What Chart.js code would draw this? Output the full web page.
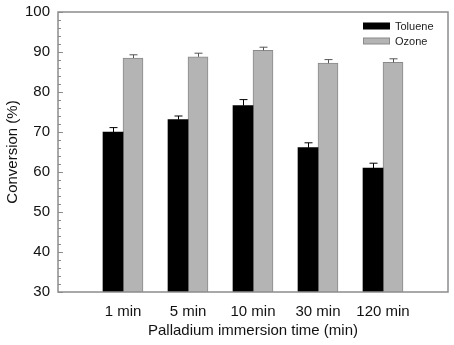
<!DOCTYPE html>
<html>
<head>
<meta charset="utf-8">
<script src="https://cdn.jsdelivr.net/npm/chart.js@4/dist/chart.umd.min.js"></script>
<style>
  html, body { margin: 0; padding: 0; background: #fff; }
  #wrap { width: 454px; height: 345px; }
</style>
</head>
<body>
<div id="wrap"><canvas id="chart" width="454" height="345"></canvas></div>
<script>
const categories = ['1 min', '5 min', '10 min', '30 min', '120 min'];
const tolueneValues = [70.0, 73.1, 76.6, 66.1, 61.0];
const tolueneErrors = [1.1, 0.9, 1.5, 1.2, 1.2];
const ozoneValues = [88.5, 88.8, 90.4, 87.2, 87.4];
const ozoneErrors = [0.8, 0.9, 0.8, 0.9, 0.9];
const yTicks = [30, 40, 50, 60, 70, 80, 90, 100];

const FONT = '"Liberation Sans", Arial, sans-serif';

// empty slot on both ends so the groups sit like in the original
const pad = arr => [null, ...arr, null];
const labels = ['', ...categories, ''];

const frameAndTicks = {
    id: 'frameAndTicks',
    afterDatasetsDraw(chart) {
        const { ctx, chartArea: a, scales: { y } } = chart;
        ctx.save();
        ctx.strokeStyle = '#8c8c8c';
        ctx.lineWidth = 1;
        // minor and major ticks on the inside of the left axis
        for (let v = yTicks[0]; v <= yTicks[yTicks.length - 1]; v += 2) {
            const py = Math.round(y.getPixelForValue(v)) + 0.5;
            const len = v % 10 === 0 ? 5 : 3;
            ctx.beginPath();
            ctx.moveTo(a.left, py);
            ctx.lineTo(a.left + len, py);
            ctx.stroke();
        }
        ctx.lineWidth = 1.5;
        ctx.strokeRect(a.left, a.top, a.right - a.left, a.bottom - a.top);
        ctx.restore();
    }
};

const errorBars = {
    id: 'errorBars',
    afterDatasetsDraw(chart) {
        const { ctx, scales: { y } } = chart;
        const errs = [tolueneErrors, ozoneErrors];
        const colors = ['#000', '#555'];
        ctx.save();
        ctx.lineWidth = 1;
        chart.data.datasets.forEach((ds, di) => {
            const meta = chart.getDatasetMeta(di);
            meta.data.forEach((bar, i) => {
                const v = ds.data[i];
                if (v === null) return;
                const e = errs[di][i - 1];
                const x = Math.round(bar.x) + 0.5;
                const top = y.getPixelForValue(v + e);
                ctx.strokeStyle = colors[di];
                ctx.beginPath();
                ctx.moveTo(x, bar.y);
                ctx.lineTo(x, top);
                ctx.moveTo(x - 4, top);
                ctx.lineTo(x + 4, top);
                ctx.stroke();
            });
        });
        ctx.restore();
    }
};

const boxLegend = {
    id: 'boxLegend',
    afterDraw(chart) {
        const { ctx } = chart;
        const items = [
            { text: 'Toluene', fill: '#000', stroke: '#000' },
            { text: 'Ozone', fill: '#b4b4b4', stroke: '#8a8a8a' }
        ];
        ctx.save();
        ctx.font = '11px ' + FONT;
        ctx.textBaseline = 'middle';
        items.forEach((it, i) => {
            const cy = 26 + i * 15;
            ctx.fillStyle = it.fill;
            ctx.fillRect(363.5, cy - 3, 26, 6);
            ctx.strokeStyle = it.stroke;
            ctx.lineWidth = 1;
            ctx.strokeRect(363.5, cy - 3, 26, 6);
            ctx.fillStyle = '#222';
            ctx.fillText(it.text, 395, cy + 0.5);
        });
        ctx.restore();
    }
};

new Chart(document.getElementById('chart'), {
    type: 'bar',
    data: {
        labels,
        datasets: [
            {
                label: 'Toluene',
                data: pad(tolueneValues),
                backgroundColor: '#000',
                borderColor: '#000',
                borderWidth: 0,
                barThickness: 20
            },
            {
                label: 'Ozone',
                data: pad(ozoneValues),
                backgroundColor: '#b4b4b4',
                borderColor: '#8a8a8a',
                borderWidth: 1,
                barThickness: 20
            }
        ]
    },
    options: {
        responsive: false,
        animation: false,
        layout: { padding: { left: 2, right: 6, top: 12, bottom: 5 } },
        plugins: {
            legend: { display: false },
            tooltip: { enabled: false }
        },
        scales: {
            x: {
                offset: false,
                afterFit: scale => {
                    scale.height = 48;
                    scale.paddingLeft = 0;
                    scale.paddingRight = 0;
                },
                grid: { display: false, drawTicks: false },
                border: { display: false },
                ticks: {
                    color: '#111',
                    font: { family: FONT, size: 15 },
                    padding: 11,
                    maxRotation: 0,
                    autoSkip: false
                },
                title: {
                    display: true,
                    text: 'Palladium immersion time (min)',
                    color: '#111',
                    font: { family: FONT, size: 15 },
                    padding: { top: 1, bottom: 0 }
                }
            },
            y: {
                min: 30,
                max: 100,
                afterFit: scale => {
                    scale.width = 56;
                    scale.paddingTop = 0;
                    scale.paddingBottom = 0;
                },
                grid: { display: false, drawTicks: false },
                border: { display: false },
                ticks: {
                    stepSize: 10,
                    color: '#111',
                    font: { family: FONT, size: 15 },
                    padding: 8
                },
                title: {
                    display: true,
                    text: 'Conversion (%)',
                    color: '#111',
                    font: { family: FONT, size: 15 },
                    padding: { top: 2, bottom: 0 }
                }
            }
        }
    },
    plugins: [frameAndTicks, errorBars, boxLegend]
});
</script>
</body>
</html>
